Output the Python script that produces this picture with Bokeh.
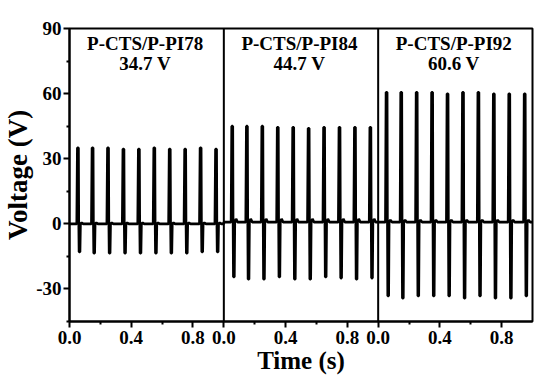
from bokeh.plotting import figure
from bokeh.models import (ColumnDataSource, FixedTicker, CustomJSTickFormatter,
                          Span, Range1d, Label)
from bokeh.embed import file_html
from bokeh.resources import INLINE

# ---- data ----
panel_names = ["P-CTS/P-PI78", "P-CTS/P-PI84", "P-CTS/P-PI92"]
panel_voltages = ["34.7 V", "44.7 V", "60.6 V"]
spike_times = [0.055, 0.15, 0.25, 0.35, 0.45, 0.55, 0.65, 0.75, 0.85, 0.95]
peaks_78 = [35, 35, 35, 34.5, 34.5, 35, 34.5, 34.5, 35, 34.5]
troughs_78 = [-13, -13.5, -13.5, -13.5, -13.5, -13.5, -13.5, -13.5, -13, -13]
peaks_84 = [45, 45, 45, 44.5, 44.5, 44, 44.5, 44.5, 44.5, 44.5]
troughs_84 = [-24.5, -25.5, -25.5, -24.5, -25.5, -25.5, -24.5, -25, -25.5, -25]
peaks_92 = [60.6, 60.6, 60.6, 60.6, 59.9, 60.6, 60.6, 59.9, 59.9, 59.9]
troughs_92 = [-33.2, -34.3, -33.2, -33.2, -33.2, -34.3, -33.2, -34.3, -34.3, -33.2]
baselines = [0.0, 0.8, 0.8]
ripples = [0.5, 1.5, 1.0]
x_major = [0, 0.4, 0.8, 1.0, 1.4, 1.8, 2.0, 2.4, 2.8]
x_minor = [0.2, 0.6, 1.2, 1.6, 2.2, 2.6]
y_major = [-30, 0, 30, 60, 90]
y_minor = [-45, -15, 15, 45, 75]

peaks = [peaks_78, peaks_84, peaks_92]
troughs = [troughs_78, troughs_84, troughs_92]

# build waveform (panel i is offset by i on the shared time axis)
xs, ys = [], []
for i in range(3):
    b = baselines[i]
    xs.append(i + 0.0); ys.append(b)
    for t, pk, tr in zip(spike_times, peaks[i], troughs[i]):
        pts = [(-0.008, b), (-0.004, pk), (0.003, pk), (0.005, b),
               (0.007, tr), (0.013, tr), (0.016, b),
               (0.024, b + ripples[i]), (0.034, b)]
        for dx, v in pts:
            xs.append(i + t + dx); ys.append(v)
    xs.append(i + 1.0); ys.append(b)

src = ColumnDataSource(dict(x=xs, y=ys))

FONT = "Liberation Serif"

p = figure(width=558, height=377, output_backend="svg", toolbar_location=None,
           x_range=Range1d(0, 3), y_range=Range1d(-45, 90),
           min_border_left=67, min_border_right=26, min_border_top=28,
           min_border_bottom=56)
p.background_fill_color = "white"
p.border_fill_color = "white"
p.outline_line_color = "black"
p.outline_line_width = 2
p.grid.visible = False

p.line("x", "y", source=src, line_color="black", line_width=2.6)

for xv in [1, 2]:
    p.add_layout(Span(location=xv, dimension="height", line_color="black", line_width=2))

for i in range(3):
    p.add_layout(Label(x=i + 0.49, y=83.2, text=panel_names[i], text_align="center",
                       text_baseline="middle", text_font=FONT, text_font_style="bold",
                       text_font_size="19px", text_color="black"))
    p.add_layout(Label(x=i + 0.49, y=74.0, text=panel_voltages[i], text_align="center",
                       text_baseline="middle", text_font=FONT, text_font_style="bold",
                       text_font_size="19px", text_color="black"))

xa = p.xaxis[0]
xa.ticker = FixedTicker(ticks=x_major, minor_ticks=x_minor)
xa.formatter = CustomJSTickFormatter(
    code="const v = tick - Math.floor(tick + 1e-6); return Math.abs(v).toFixed(1);")
xa.axis_label = "Time (s)"
ya = p.yaxis[0]
ya.ticker = FixedTicker(ticks=y_major, minor_ticks=y_minor)
ya.formatter = CustomJSTickFormatter(code="return tick.toFixed(0);")
ya.axis_label = "Voltage (V)"

for ax in [xa, ya]:
    ax.axis_line_width = 2
    ax.axis_line_color = "black"
    ax.major_tick_line_width = 2
    ax.minor_tick_line_width = 2
    ax.major_tick_line_color = "black"
    ax.minor_tick_line_color = "black"
    ax.major_tick_out = 6
    ax.major_tick_in = 0
    ax.minor_tick_out = 3
    ax.minor_tick_in = 0
    ax.major_label_text_font = FONT
    ax.major_label_text_font_style = "bold"
    ax.major_label_text_font_size = "19px"
    ax.major_label_text_color = "black"
    ax.axis_label_text_font = FONT
    ax.axis_label_text_font_style = "bold"
    ax.axis_label_text_color = "black"
    ax.major_label_standoff = 3
    ax.axis_label_standoff = 0

xa.axis_label_text_font_size = "25px"
ya.axis_label_text_font_size = "27px"
ya.major_label_standoff = 2

open("out.html", "w").write(file_html(p, INLINE))
